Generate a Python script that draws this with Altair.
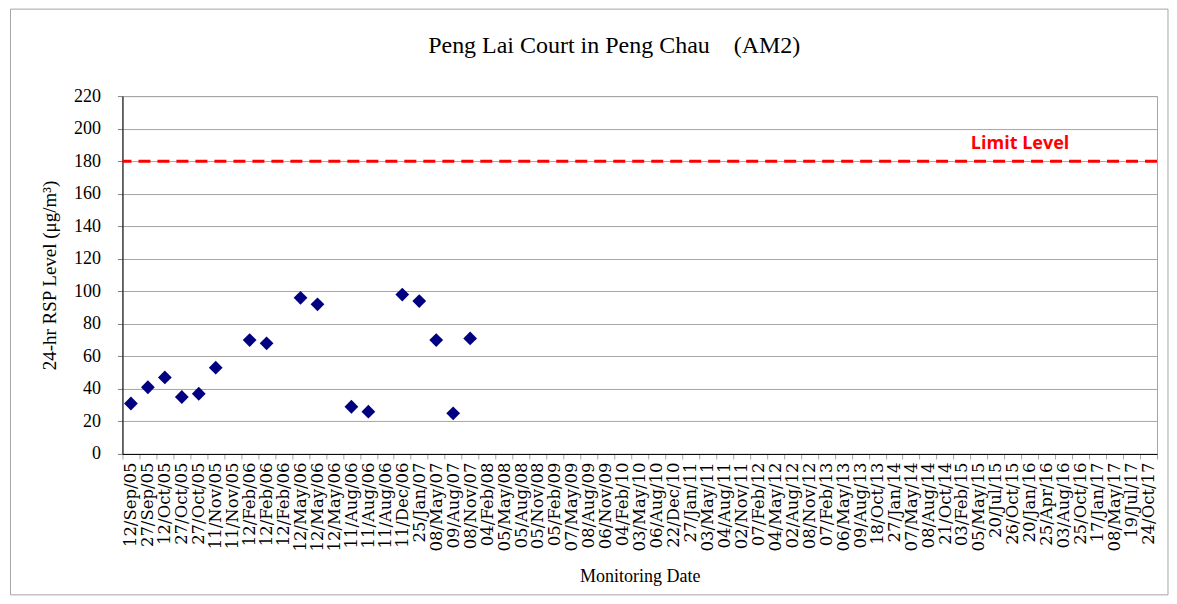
import json
import pandas as pd
import altair as alt

# Monitoring dates (category axis, in order)
dates = [
    "12/Sep/05", "27/Sep/05", "12/Oct/05", "27/Oct/05", "27/Oct/05", "11/Nov/05", "11/Nov/05",
    "12/Feb/06", "12/Feb/06", "12/Feb/06", "12/May/06", "12/May/06", "12/May/06",
    "11/Aug/06", "11/Aug/06", "11/Aug/06", "11/Dec/06", "25/Jan/07", "08/May/07", "09/Aug/07",
    "08/Nov/07", "04/Feb/08", "05/May/08", "05/Aug/08", "05/Nov/08", "05/Feb/09", "07/May/09",
    "08/Aug/09", "06/Nov/09", "04/Feb/10", "03/May/10", "06/Aug/10", "22/Dec/10", "27/Jan/11",
    "03/May/11", "04/Aug/11", "02/Nov/11", "07/Feb/12", "04/May/12", "02/Aug/12", "08/Nov/12",
    "07/Feb/13", "06/May/13", "09/Aug/13", "18/Oct/13", "27/Jan/14", "07/May/14", "08/Aug/14",
    "21/Oct/14", "03/Feb/15", "05/May/15", "20/Jul/15", "26/Oct/15", "20/Jan/16", "25/Apr/16",
    "03/Aug/16", "25/Oct/16", "17/Jan/17", "08/May/17", "19/Jul/17", "24/Oct/17",
]

# 24-hr RSP readings for the first dates (None = no reading plotted)
rsp = [31, 41, 47, 35, 37, 53, None, 70, 68, None, 96, 92, None,
       29, 26, None, 98, 94, 70, 25, 71]

limit_level = [180]
title_text = "Peng Lai Court in Peng Chau\u00a0\u00a0\u00a0\u00a0(AM2)"
limit_label = "Limit Level"
y_ticks = [0, 20, 40, 60, 80, 100, 120, 140, 160, 180, 200, 220]

df = pd.DataFrame({"idx": list(range(len(rsp))), "rsp": rsp}).dropna()
limit_df = pd.DataFrame({"limit": limit_level})

W, H = 1035, 358
SERIF = "Liberation Serif"

label_expr = json.dumps(dates) + "[datum.value]"

x_enc = alt.X(
    "idx:O",
    scale=alt.Scale(domain=list(range(len(dates))), paddingInner=0, paddingOuter=0),
    axis=alt.Axis(
        title="Monitoring Date",
        labelExpr=label_expr,
        labelAngle=270,
        labelOverlap=False,
        labelBound=False,
        labelFont="DejaVu Serif",
        labelFontSize=16.5,
        labelColor="#000000",
        labelPadding=3,
        tickBand="extent",
        tickColor="#a6a6a6",
        tickSize=5,
        domainColor="#000000",
        grid=False,
        titleFont=SERIF,
        titleFontSize=18,
        titleFontWeight="normal",
        titleColor="#000000",
        titlePadding=16,
    ),
)

y_scale = alt.Scale(domain=[0, 220], nice=False)
y_axis = alt.Axis(
    title="24-hr RSP Level (μg/m³)",
    values=y_ticks,
    grid=True,
    gridColor="#a6a6a6",
    domainColor="#000000",
    tickColor="#808080",
    tickSize=5,
    labelOverlap=False,
    labelBound=False,
    labelFlush=False,
    labelFont=SERIF,
    labelFontSize=18,
    labelColor="#000000",
    labelPadding=17,
    titleFont=SERIF,
    titleFontSize=19,
    titleFontWeight="normal",
    titleColor="#000000",
    titlePadding=14,
)

frame = alt.Chart(limit_df).mark_rect(
    fill="#ffffff", fillOpacity=0, stroke="#a6a6a6", strokeWidth=1
).encode(
    x=alt.value(-112), x2=alt.value(1046), y=alt.value(-87), y2=alt.value(499)
)

points = alt.Chart(df).mark_point(
    shape="diamond", filled=True, color="#000080", size=190, opacity=1
).encode(
    x=x_enc,
    y=alt.Y("rsp:Q", scale=y_scale, axis=y_axis),
)

rule = alt.Chart(limit_df).mark_rule(
    color="#ff0000", strokeDash=[12, 7], strokeWidth=3
).encode(y=alt.Y("limit:Q", scale=y_scale, axis=y_axis))

limit_text = alt.Chart(limit_df).mark_text(
    text=limit_label, color="#ff0000", font="Open Sans", fontWeight="bold",
    fontSize=18, dy=-17
).encode(x=alt.value(898), y=alt.Y("limit:Q", scale=y_scale, axis=y_axis))

title = alt.Chart(limit_df).mark_text(
    text=title_text, font=SERIF, fontSize=24, color="#000000"
).encode(x=alt.value(492), y=alt.value(-50))

chart = alt.layer(frame, points, rule, limit_text, title).properties(
    width=W, height=H,
    padding={"left": 1.5, "top": 0, "right": 0, "bottom": 0},
).configure_view(stroke="#a6a6a6")

chart.save("out.html", embed_options={"renderer": "svg", "actions": False})
